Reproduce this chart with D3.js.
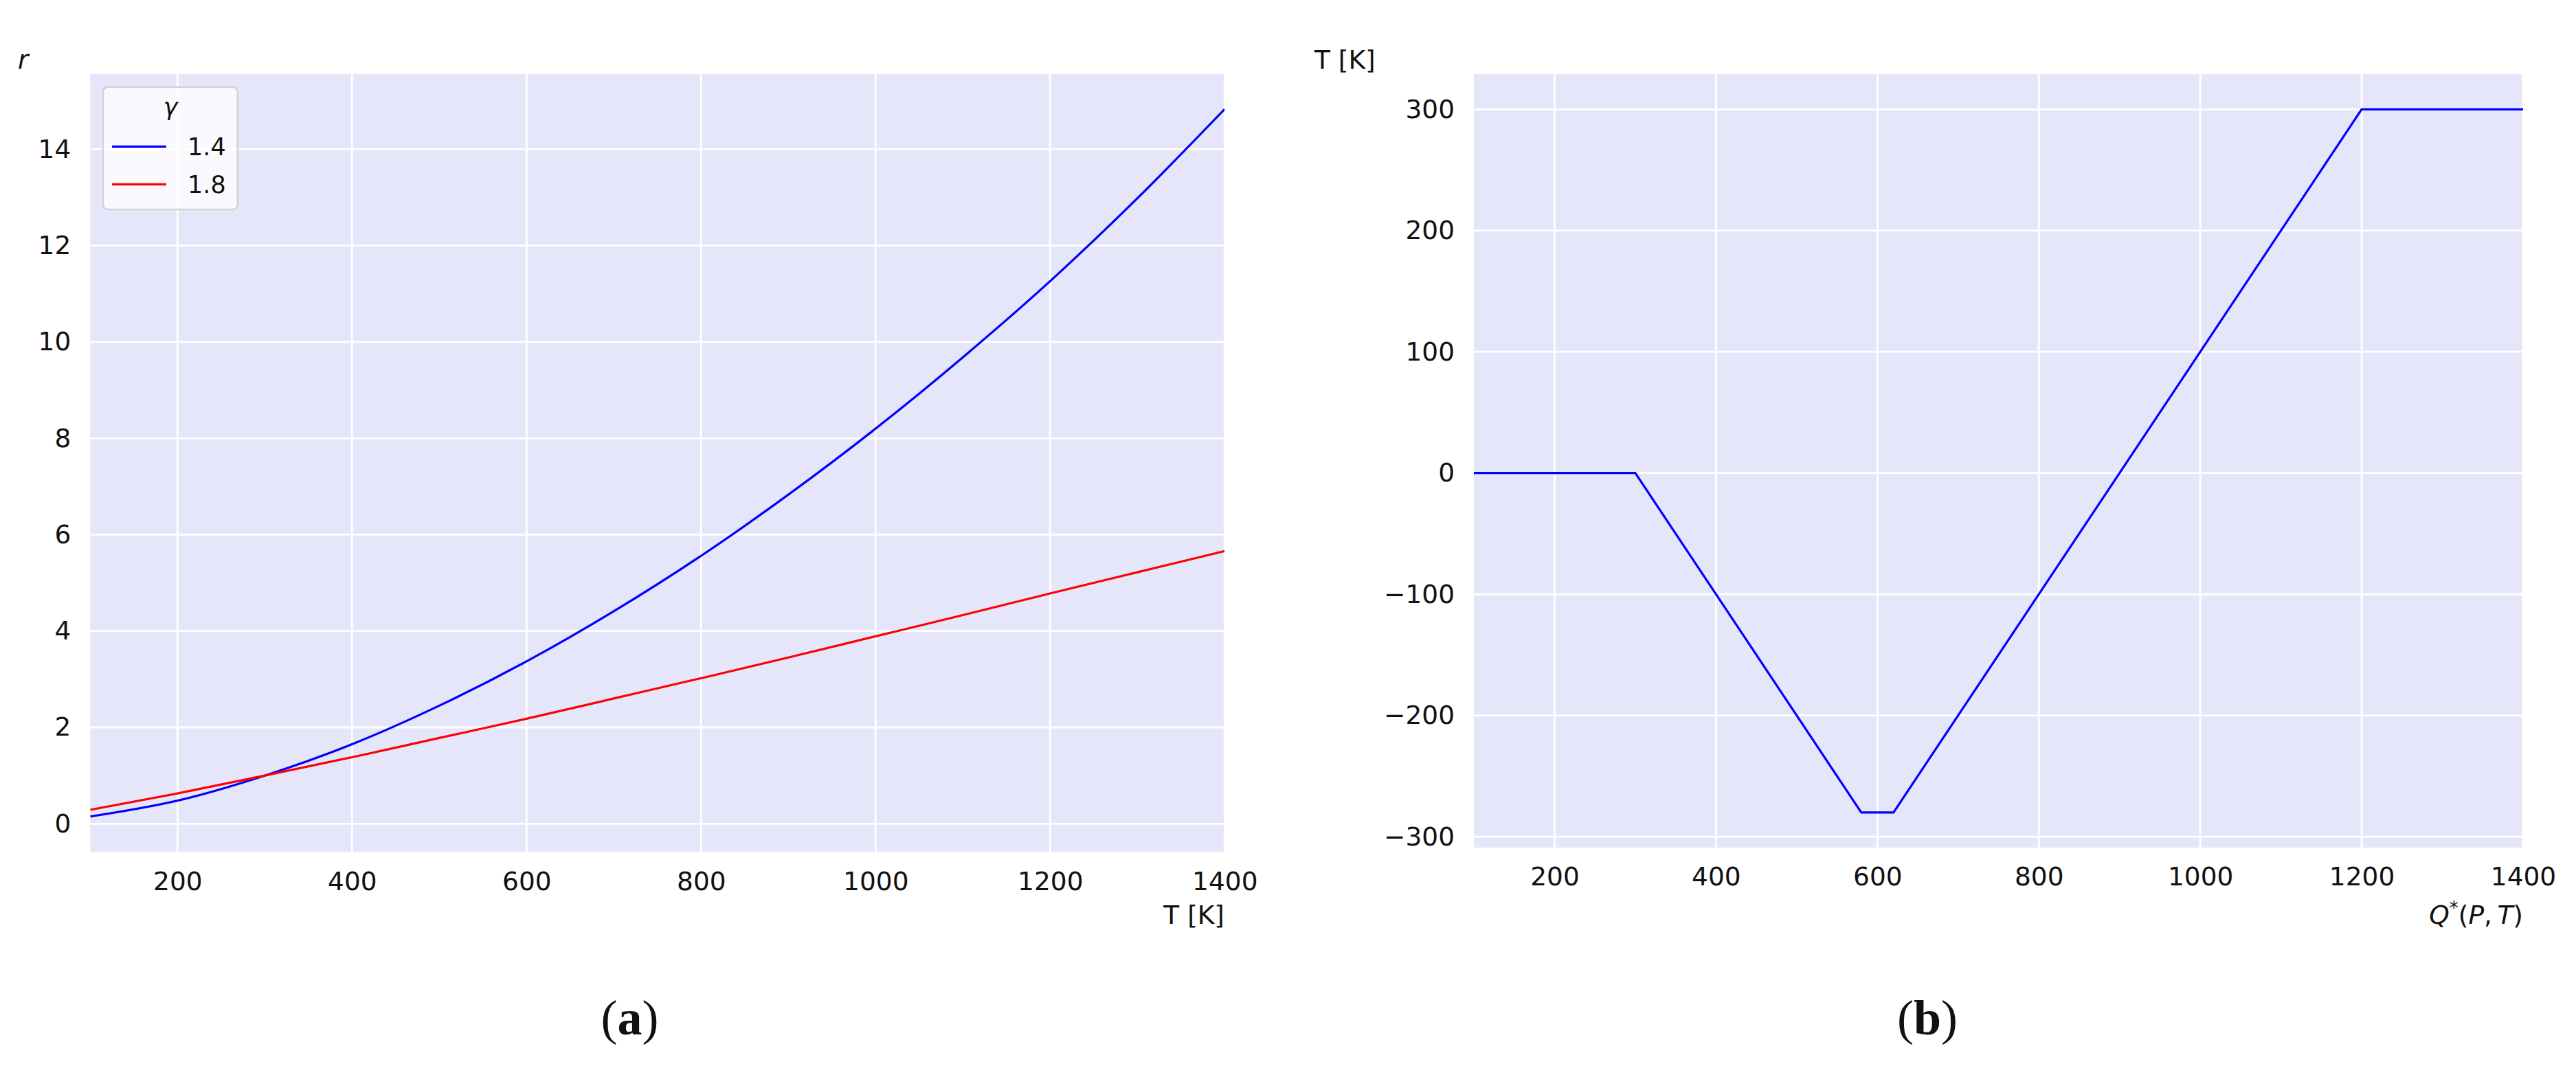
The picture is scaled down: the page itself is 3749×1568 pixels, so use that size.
<!DOCTYPE html>
<html>
<head>
<meta charset="utf-8">
<script src="https://cdn.jsdelivr.net/npm/d3@7"></script>
<style>
  body { margin: 0; background: #fff; }
  svg { display: block; }
  text { font-family: "DejaVu Sans", sans-serif; fill: #111; }
</style>
</head>
<body>
<div id="chart"></div>
<script>
// panel (a): r against T for two gamma values
const tempK = [100, 200, 300, 400, 500, 600, 700, 800, 900, 1000, 1100, 1200, 1300, 1400];
const rGamma14 = [0.15, 0.48, 1.0, 1.65, 2.45, 3.37, 4.41, 5.56, 6.83, 8.2, 9.68, 11.26, 12.98, 14.83];
const rGamma18 = [0.29, 0.63, 1.0, 1.38, 1.78, 2.18, 2.6, 3.02, 3.45, 3.89, 4.33, 4.78, 5.22, 5.66];
const gammaLabels = ["1.4", "1.8"];

// panel (b): piecewise line
const qValues = [100, 300, 580, 620, 1200, 1400];
const tValues = [0, 0, -280, -280, 300, 300];

// tick labels
const xTicks = [200, 400, 600, 800, 1000, 1200, 1400];
const yTicksA = [0, 2, 4, 6, 8, 10, 12, 14];
const yTicksB = [-300, -200, -100, 0, 100, 200, 300];

const W = 3749, H = 1568;
const bg = "#e6e6fa";
const fontSize = 37.5;

const svg = d3.select("#chart").append("svg")
  .attr("width", W).attr("height", H);

function panel(opts) {
  const {left, right, top, bottom, xDomain, yDomain, yTicks, id} = opts;
  const x = d3.scaleLinear().domain(xDomain).range([left, right]);
  const y = d3.scaleLinear().domain(yDomain).range([bottom, top]);
  const g = svg.append("g");

  g.append("rect").attr("x", left).attr("y", top)
    .attr("width", right - left).attr("height", bottom - top)
    .attr("fill", bg);

  g.append("clipPath").attr("id", id)
    .append("rect").attr("x", left).attr("y", top)
    .attr("width", right - left).attr("height", bottom - top);

  const grid = g.append("g").attr("stroke", "#fff").attr("stroke-width", 2.8);
  grid.selectAll(".gx").data(xTicks).join("line")
    .attr("x1", d => x(d)).attr("x2", d => x(d))
    .attr("y1", top).attr("y2", bottom);
  grid.selectAll(".gy").data(yTicks).join("line")
    .attr("x1", left).attr("x2", right)
    .attr("y1", d => y(d)).attr("y2", d => y(d));

  const xa = g.append("g").attr("transform", `translate(0,${bottom})`)
    .call(d3.axisBottom(x).tickValues(xTicks).tickSize(0).tickPadding(28.5).tickFormat(d3.format("d")));
  const ya = g.append("g").attr("transform", `translate(${left},0)`)
    .call(d3.axisLeft(y).tickValues(yTicks).tickSize(0).tickPadding(28).tickFormat(d3.format("d")));
  [xa, ya].forEach(a => {
    a.select(".domain").remove();
    a.selectAll("text").attr("font-size", fontSize)
      .attr("font-family", "DejaVu Sans").attr("fill", "#111");
  });
  return {x, y, g};
}

// ---- panel (a)
const A = panel({left: 131.3, right: 1782.3, top: 107.7, bottom: 1240.7,
  xDomain: [100, 1400], yDomain: [-0.59, 15.56], yTicks: yTicksA, id: "clipA"});

const lineA = (vals) => d3.line()
  .x((d, i) => A.x(tempK[i])).y(d => A.y(d))
  .curve(d3.curveMonotoneX)(vals);

A.g.append("g").attr("clip-path", "url(#clipA)")
  .selectAll("path").data([rGamma14, rGamma18]).join("path")
  .attr("d", d => lineA(d))
  .attr("fill", "none")
  .attr("stroke", (d, i) => i === 0 ? "#0000ff" : "#ff0000")
  .attr("stroke-width", 3.2);

A.g.append("text").attr("x", 26).attr("y", 100)
  .attr("font-size", fontSize).attr("font-style", "italic").text("r");
A.g.append("text").attr("x", 1782).attr("y", 1345)
  .attr("text-anchor", "end").attr("font-size", fontSize).text("T [K]");

// legend
const leg = A.g.append("g");
leg.append("rect").attr("x", 150).attr("y", 126.7).attr("width", 195.7).attr("height", 178.3)
  .attr("rx", 7).attr("fill", "#fff").attr("fill-opacity", 0.8)
  .attr("stroke", "#d2d2d2").attr("stroke-width", 2.5);
leg.append("text").attr("x", 248).attr("y", 168).attr("text-anchor", "middle")
  .attr("font-size", 35).attr("font-style", "italic").text("γ");
const items = leg.selectAll(".item").data(gammaLabels).join("g")
  .attr("transform", (d, i) => `translate(0,${213.3 + i * 55})`);
items.append("line").attr("x1", 163).attr("x2", 242).attr("y1", 0).attr("y2", 0)
  .attr("stroke", (d, i) => i === 0 ? "#0000ff" : "#ff0000").attr("stroke-width", 3.2);
items.append("text").attr("x", 273).attr("y", 12.4)
  .attr("font-size", 35).text(d => d);

// ---- panel (b)
const B = panel({left: 2145, right: 3672, top: 108, bottom: 1234,
  xDomain: [100, 1400], yDomain: [-309, 329], yTicks: yTicksB, id: "clipB"});

const lineB = d3.line().x((d, i) => B.x(qValues[i])).y(d => B.y(d));
B.g.append("path").attr("clip-path", "url(#clipB)")
  .attr("d", lineB(tValues))
  .attr("fill", "none").attr("stroke", "#0000ff").attr("stroke-width", 3.2);

B.g.append("text").attr("x", 1913).attr("y", 100)
  .attr("font-size", fontSize).text("T [K]");
const ql = B.g.append("text").attr("x", 3672).attr("y", 1345)
  .attr("text-anchor", "end").attr("font-size", fontSize);
ql.append("tspan").attr("font-style", "italic").text("Q");
ql.append("tspan").attr("dy", -14).attr("font-size", 26).text("*");
ql.append("tspan").attr("dy", 14).text("(");
ql.append("tspan").attr("font-style", "italic").text("P");
ql.append("tspan").text(",\u2009");
ql.append("tspan").attr("font-style", "italic").text("T");
ql.append("tspan").text(")");

// captions
[["a", 916.5], ["b", 2805]].forEach(([c, cx]) => {
  const t = svg.append("text").attr("x", cx).attr("y", 1506)
    .attr("text-anchor", "middle").attr("font-size", 72)
    .style("font-family", "'Liberation Serif', serif");
  t.append("tspan").text("(");
  t.append("tspan").attr("font-weight", "bold").text(c);
  t.append("tspan").text(")");
});
</script>
</body>
</html>
